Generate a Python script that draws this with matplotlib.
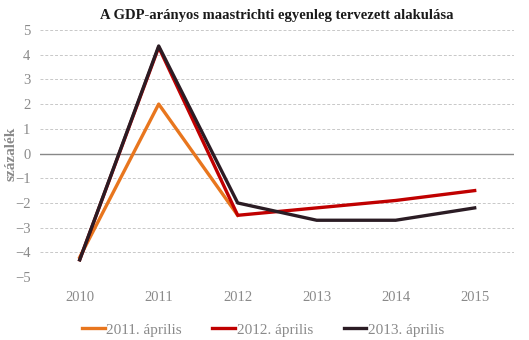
import numpy as np
import matplotlib.pyplot as plt

years = ['2010', '2011', '2012', '2013', '2014', '2015']
apr_2011 = [-4.2, 2.0, -2.5]
apr_2012 = [-4.3, 4.3, -2.5, -2.2, -1.9, -1.5]
apr_2013 = [-4.3, 4.35, -2.0, -2.7, -2.7, -2.2]

plt.rcParams['font.family'] = ['Liberation Serif', 'DejaVu Serif']

fig = plt.figure(figsize=(5.29, 3.40), dpi=100)
ax = fig.add_axes([0.076, 0.185, 0.896, 0.727])

x = np.arange(len(years))
ax.plot(x[:len(apr_2011)], apr_2011, color='#E8761E', lw=2.4, label='2011. április')
ax.plot(x, apr_2012, color='#C00000', lw=2.4, label='2012. április')
ax.plot(x, apr_2013, color='#2B1C24', lw=2.4, label='2013. április')

ax.set_xlim(-0.5, len(years) - 0.5)
ax.set_ylim(-5, 5)
ax.set_yticks(range(-5, 6))
ax.set_xticks(x)
ax.set_xticklabels(years)
ax.tick_params(length=0, colors='#8A8A8A', labelsize=10.5)
ax.tick_params(axis='x', pad=10)
ax.tick_params(axis='y', pad=7)
ax.grid(axis='y', color='#C8C8C8', ls=(0, (3, 2)), lw=0.7)
ax.set_axisbelow(True)
ax.axhline(0, color='#888888', lw=1, zorder=1)
for s in ax.spines.values():
    s.set_visible(False)

ax.set_ylabel('százalék', color='#8A8A8A', fontsize=11, fontweight='bold', va='center')
ax.yaxis.set_label_coords(-0.062, 0.5)
ax.set_title('A GDP-arányos maastrichti egyenleg tervezett alakulása',
             fontsize=10.5, fontweight='bold', color='#1A1A1A', pad=8)

leg = ax.legend(loc='upper center', bbox_to_anchor=(0.47, -0.13), ncol=3, frameon=False,
                fontsize=11, handlelength=1.5, handletextpad=0.1, columnspacing=2.0)
for t in leg.get_texts():
    t.set_color('#8A8A8A')

fig.savefig('out.png', dpi=100)
